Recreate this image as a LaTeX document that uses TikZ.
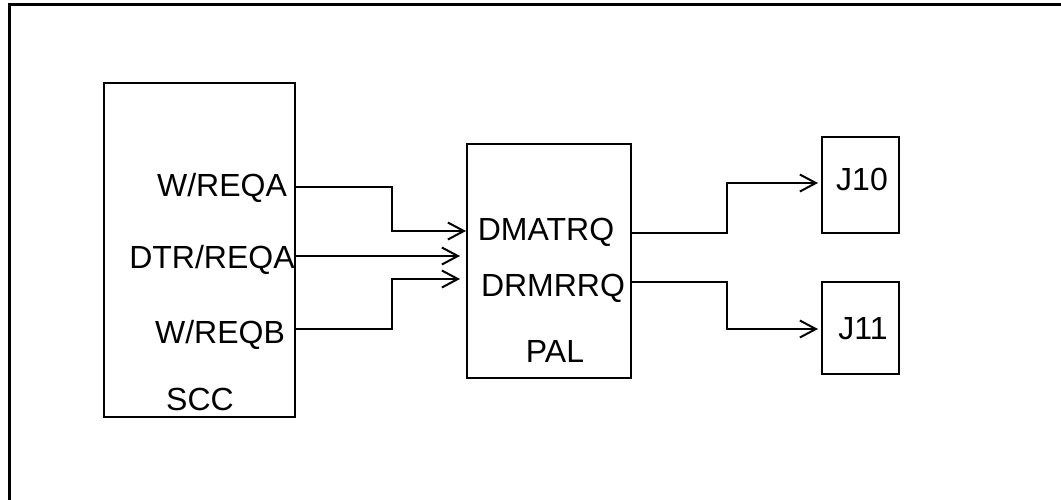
\documentclass[tikz,border=0pt]{standalone}
\usepackage{fontspec}
\setmainfont{Liberation Sans}
\usetikzlibrary{arrows.meta}
\begin{document}
\begin{tikzpicture}[x=1pt,y=-1pt,
  blk/.style={draw,line width=2pt,rectangle,inner sep=0pt,anchor=center},
  lbl/.style={inner sep=0pt,anchor=base,font=\fontsize{32}{36}\selectfont},
  sig/.style={line width=2pt,-{Straight Barb[length=16pt,width=17pt,line width=2pt]}},
  wire/.style={line width=2pt}]
\useasboundingbox (0,0) rectangle (1061,499);
% outer frame
\draw[line width=3pt] (9.5,510) -- (9.5,4.8) -- (1075,4.8);
% boxes
\node[blk,minimum width=191pt,minimum height=334pt] (scc) at (199.5,250) {};
\node[blk,minimum width=164pt,minimum height=234pt] (pal) at (549,261) {};
\node[blk,minimum width=77pt,minimum height=96pt] (j10) at (860.5,185) {};
\node[blk,minimum width=77pt,minimum height=92pt] (j11) at (860.5,328) {};
% labels
\node[lbl] (lwa) at (222,196) {W/REQA};
\node[lbl] (ldtr) at (212,268) {DTR/REQA};
\node[lbl] (lwb) at (220,343) {W/REQB};
\node[lbl] (lscc) at (200,410) {SCC};
\node[lbl] (ldma) at (546,240) {DMATRQ};
\node[lbl] (ldrm) at (553,296) {DRMRRQ};
\node[lbl] (lpal) at (555,362) {PAL};
\node[lbl] (lj10) at (862,190) {J10};
\node[lbl] (lj11) at (863,339) {J11};
% routing coordinates
\coordinate (ya) at (0,187);
\coordinate (yd) at (0,256);
\coordinate (yb) at (0,329);
\coordinate (ka) at (392,231);
\coordinate (kb) at (392,279);
\coordinate (yo1) at (0,233);
\coordinate (yo2) at (0,282);
\coordinate (m1) at (727,183);
\coordinate (m2) at (727,329);
% connectors
\draw[sig] (scc.east |- ya) -| (ka) -- (pal.west |- ka);
\draw[sig] (scc.east |- yd) -- ([xshift=-6pt]pal.west |- yd);
\draw[sig] (scc.east |- yb) -| (kb) -- ([xshift=-6pt]pal.west |- kb);
\draw[sig] (pal.east |- yo1) -| (m1) -- ([xshift=-3pt]j10.west |- m1);
\draw[sig] (pal.east |- yo2) -| (m2) -- ([xshift=-3pt]j11.west |- m2);
\end{tikzpicture}
\end{document}
